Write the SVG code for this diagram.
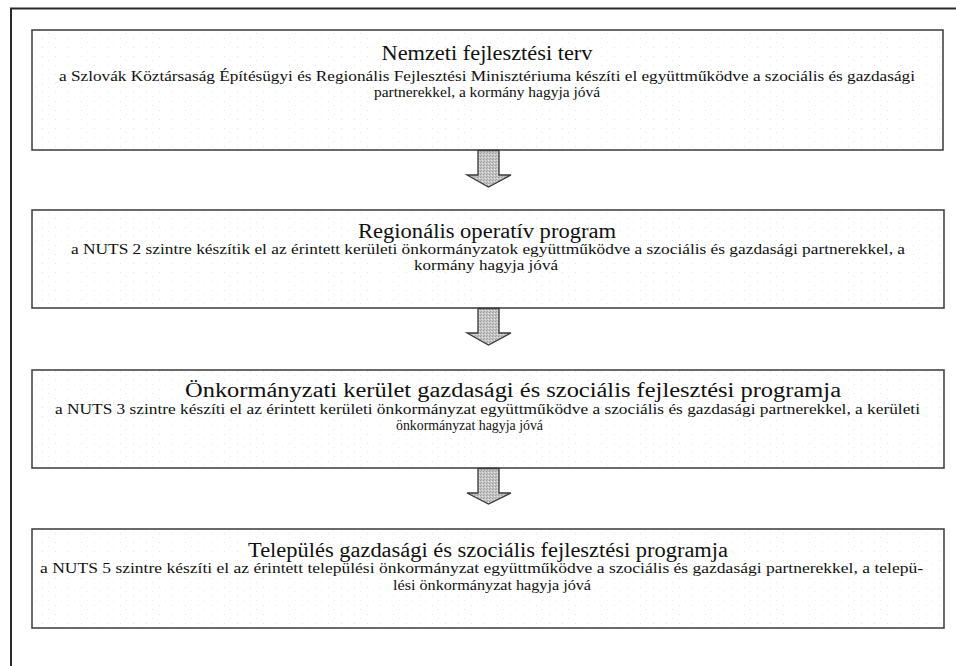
<svg xmlns="http://www.w3.org/2000/svg" width="956" height="666" viewBox="0 0 956 666">
<style>
.box{fill:url(#stip);stroke:#3a3a3a;stroke-width:1.5}
.arrow{fill:url(#astip);stroke:#3a3a3a;stroke-width:1.3;stroke-linejoin:miter}
.frame{fill:none;stroke:#2a2a2a;stroke-width:2}
</style>
<defs>
<pattern id="stip" width="13" height="9" patternUnits="userSpaceOnUse">
<rect width="13" height="9" fill="#ffffff"/>
<rect x="3" y="2" width="1" height="1" fill="#e4e4e4"/>
<rect x="9" y="6" width="1" height="1" fill="#ececec"/>
</pattern>
<pattern id="astip" width="3" height="3" patternUnits="userSpaceOnUse">
<rect width="3" height="3" fill="#c4c4c4"/>
<rect x="0" y="0" width="1" height="1" fill="#9a9a9a"/>
<rect x="2" y="1" width="1" height="1" fill="#e6e6e6"/>
<rect x="1" y="2" width="1" height="1" fill="#a8a8a8"/>
</pattern>
</defs>
<rect width="956" height="666" fill="#ffffff"/>
<path class="frame" d="M11,670 L11,8.5 L960,8.5"/>

<g font-family="Liberation Serif, Times New Roman, serif" fill="#111111" text-anchor="middle">
<g id="node1">
<rect class="box" x="32" y="30" width="911" height="120"/>
<text font-size="20" x="487" y="60" textLength="211" lengthAdjust="spacingAndGlyphs">Nemzeti fejlesztési terv</text>
<text font-size="15" x="487" y="81" textLength="856" lengthAdjust="spacingAndGlyphs">a Szlovák Köztársaság Építésügyi és Regionális Fejlesztési Minisztériuma készíti el együttműködve a szociális és gazdasági</text>
<text font-size="15" x="487" y="97" textLength="226" lengthAdjust="spacingAndGlyphs">partnerekkel, a kormány hagyja jóvá</text>
</g>

<g id="node2">
<rect class="box" x="32" y="210" width="912" height="98"/>
<text font-size="20" x="487" y="238" textLength="258" lengthAdjust="spacingAndGlyphs">Regionális operatív program</text>
<text font-size="15" x="488" y="254" textLength="834" lengthAdjust="spacingAndGlyphs">a NUTS 2 szintre készítik  el az érintett kerületi önkormányzatok együttműködve a szociális és gazdasági partnerekkel, a</text>
<text font-size="15" x="486" y="270" textLength="144" lengthAdjust="spacingAndGlyphs">kormány hagyja jóvá</text>
</g>

<g id="node3">
<rect class="box" x="32" y="370" width="912" height="98"/>
<text font-size="20" x="513" y="397" textLength="656" lengthAdjust="spacingAndGlyphs">Önkormányzati kerület gazdasági és szociális fejlesztési programja</text>
<text font-size="15" x="487.5" y="414" textLength="865" lengthAdjust="spacingAndGlyphs">a NUTS 3 szintre készíti  el az érintett kerületi önkormányzat együttműködve a szociális és gazdasági partnerekkel, a kerületi</text>
<text font-size="15" x="469.5" y="430" textLength="147" lengthAdjust="spacingAndGlyphs">önkormányzat hagyja jóvá</text>
</g>

<g id="node4">
<rect class="box" x="32" y="529" width="912" height="99"/>
<text font-size="20" x="488" y="557" textLength="480" lengthAdjust="spacingAndGlyphs">Település gazdasági és szociális fejlesztési programja</text>
<text font-size="15" x="481.5" y="573" textLength="883" lengthAdjust="spacingAndGlyphs">a NUTS 5 szintre készíti  el az érintett települési önkormányzat együttműködve a szociális és gazdasági partnerekkel, a telepü-</text>
<text font-size="15" x="492" y="590" textLength="198" lengthAdjust="spacingAndGlyphs">lési önkormányzat hagyja jóvá</text>
</g>
</g>

<g id="connectors">
<polygon class="arrow" points="478,150.5 499,150.5 499,175 511,175 488.5,187 467,175 478,175"/>
<polygon class="arrow" points="478,308.5 499,308.5 499,333 511,333 488.5,345 467,333 478,333"/>
<polygon class="arrow" points="478,468.5 499,468.5 499,493 511,493 488.5,504 467,493 478,493"/>
</g>
</svg>
